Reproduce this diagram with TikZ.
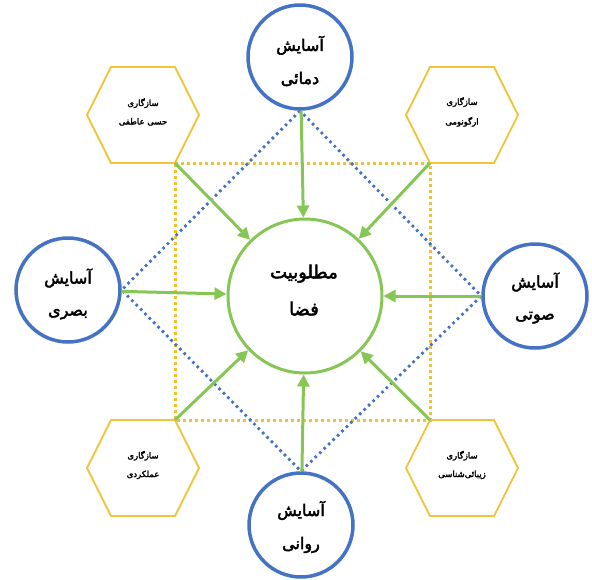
\documentclass[tikz,border=0pt]{standalone}
\usepackage{fontspec}
\usetikzlibrary{arrows.meta}
\TeXXeTstate=1
\newfontfamily\arabicfont[Script=Arabic, FakeBold=2.5]{DejaVu Sans}
\definecolor{cblue}{HTML}{4472C4}
\definecolor{cgreen}{HTML}{86C654}
\definecolor{chex}{HTML}{EFC53A}
\definecolor{csq}{HTML}{F2C12E}
\tikzset{
  outercirc/.style={circle, draw=cblue, line width=3.5pt, fill=white, minimum size=104pt, inner sep=0pt},
  outertext/.style={align=center, inner sep=0pt, font=\arabicfont\fontsize{16}{16}\selectfont},
  centercirc/.style={circle, draw=cgreen, line width=3pt, fill=white, minimum size=154pt, inner sep=0pt},
  centertext/.style={align=center, inner sep=0pt, font=\arabicfont\fontsize{18}{18}\selectfont},
  hexline/.style={draw=chex, line width=1.8pt, line join=miter},
  hextext/.style={align=center, inner sep=0pt, font=\arabicfont\fontsize{8.5}{8.5}\selectfont},
  sqline/.style={draw=csq, line width=3pt, dash pattern=on 3pt off 3pt},
  diamline/.style={draw=cblue, line width=2.8pt, dash pattern=on 2.6pt off 3.6pt},
  greenarrow/.style={draw=cgreen, line width=3pt, -{Triangle[length=12pt,width=12pt]}},
}
\newcommand{\myhexagon}[4]{%
  \draw[hexline] (#2-56,#3) -- (#2-32,#3-48) -- (#2+32,#3-48) -- (#2+56,#3) -- (#2+32,#3+48) -- (#2-32,#3+48) -- cycle;
  \node[hextext] (#1) at (#2,#3-3) {#4};
}
\begin{document}
\begin{tikzpicture}[x=1pt,y=-1pt]
\useasboundingbox (0,0) rectangle (592,579);
% square corners
\coordinate (q1) at (175,163);
\coordinate (q2) at (430,163);
\coordinate (q3) at (430,420);
\coordinate (q4) at (175,420);
\draw[sqline] (q1) -- (q2) -- (q3) -- (q4) -- cycle;
% circles
\node[outercirc] (T) at (300,57) {};
\node[outertext] (Tt) at (300,61) {\beginR آسایش\endR\\[16pt]\beginR دمائی\endR};
\node[outercirc] (L) at (68,290) {};
\node[outertext] (Lt) at (68,294) {\beginR آسایش\endR\\[16pt]\beginR بصری\endR};
\node[outercirc] (R) at (535,296) {};
\node[outertext] (Rt) at (535,298) {\beginR آسایش\endR\\[16pt]\beginR صوتی\endR};
\node[outercirc] (B) at (301,525) {};
\node[outertext] (Bt) at (301,527) {\beginR آسایش\endR\\[16pt]\beginR روانی\endR};
\draw[diamline] (T.south) -- (L.east) -- (B.north) -- (R.west) -- cycle;
\node[centercirc] (C) at (305,296) {};
\node[centertext] (Ct) at (304,290) {\beginR مطلوبیت\endR\\[18pt]\beginR فضا\endR};
% hexagons
\myhexagon{h1}{143}{115}{\beginR سازگاری\endR\\[9pt]\beginR حسی عاطفی\endR}
\myhexagon{h2}{462}{115}{\beginR سازگاری\endR\\[9pt]\beginR ارگونومی\endR}
\myhexagon{h3}{143}{468}{\beginR سازگاری\endR\\[9pt]\beginR عملکردی\endR}
\myhexagon{h4}{462}{468}{\beginR سازگاری\endR\\[9pt]\beginR زیبائی‌شناسی\endR}
% arrows
\draw[greenarrow] (T) -- (C);
\draw[greenarrow] (L) -- (C);
\draw[greenarrow] (R) -- (C);
\draw[greenarrow] (B) -- (C);
\draw[greenarrow] (q1) -- (C);
\draw[greenarrow] (q2) -- (C);
\draw[greenarrow] (q3) -- (C);
\draw[greenarrow] (q4) -- (C);
\end{tikzpicture}
\end{document}
